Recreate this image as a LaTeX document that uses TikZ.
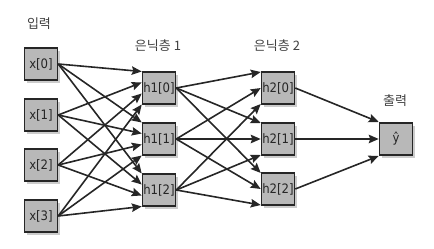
\documentclass[tikz,border=0pt]{standalone}
\usepackage{fontspec}
\setmainfont{DejaVu Sans Condensed}
\newfontfamily\kor{Noto Sans CJK KR}
\usetikzlibrary{arrows.meta,shadows,calc}
\begin{document}
\begin{tikzpicture}[x=1pt,y=-1pt,
  unit/.style={draw=black!85, line width=1.5pt, fill=black!28,
    minimum width=33pt, minimum height=32pt, inner sep=0pt,
    font=\fontsize{13}{15}\selectfont, text=black!85,
    drop shadow={shadow xshift=2.5pt, shadow yshift=-2.5pt, opacity=0.4}},
  lbl/.style={font=\kor\fontsize{13}{15}\selectfont, text=black!75},
  conn/.style={line width=1.6pt, draw=black!85,
    -{Stealth[length=10pt,width=8.5pt,inset=1.5pt]}}]
\useasboundingbox (0,0) rectangle (434,249);
% nodes
\node[unit] (x0) at (41,64) {x[0]};
\node[unit] (x1) at (41,115) {x[1]};
\node[unit] (x2) at (41,165) {x[2]};
\node[unit] (x3) at (41,216) {x[3]};
\node[unit] (ha0) at (159,88) {h1[0]};
\node[unit] (ha1) at (159,139) {h1[1]};
\node[unit] (ha2) at (159,190) {h1[2]};
\node[unit] (hb0) at (278,88) {h2[0]};
\node[unit] (hb1) at (278,139) {h2[1]};
\node[unit] (hb2) at (278,189) {h2[2]};
\node[unit] (out) at (396,139) {ŷ};
% labels
\node[lbl] (lin) at (39,24) {입력};
\node[lbl] (lh1) at (158,46) {은닉층 1};
\node[lbl] (lh2) at (277,46) {은닉층 2};
\node[lbl] (lout) at (395,101) {출력};
% connectors
\foreach \i in {0,...,3}{
  \foreach \j in {0,1,2}{
    \draw[conn] (x\i.east) -- ($(ha\j.west)+(0,{(\i-1.5)*11})$);
  }
}
\foreach \i in {0,1,2}{
  \foreach \j in {0,1,2}{
    \draw[conn] (ha\i.east) -- ($(hb\j.west)+(0,{(\i-1)*16})$);
  }
}
\foreach \i in {0,1,2}{
  \draw[conn] (hb\i.east) -- ($(out.west)+(0,{(\i-1)*17})$);
}
\end{tikzpicture}
\end{document}
